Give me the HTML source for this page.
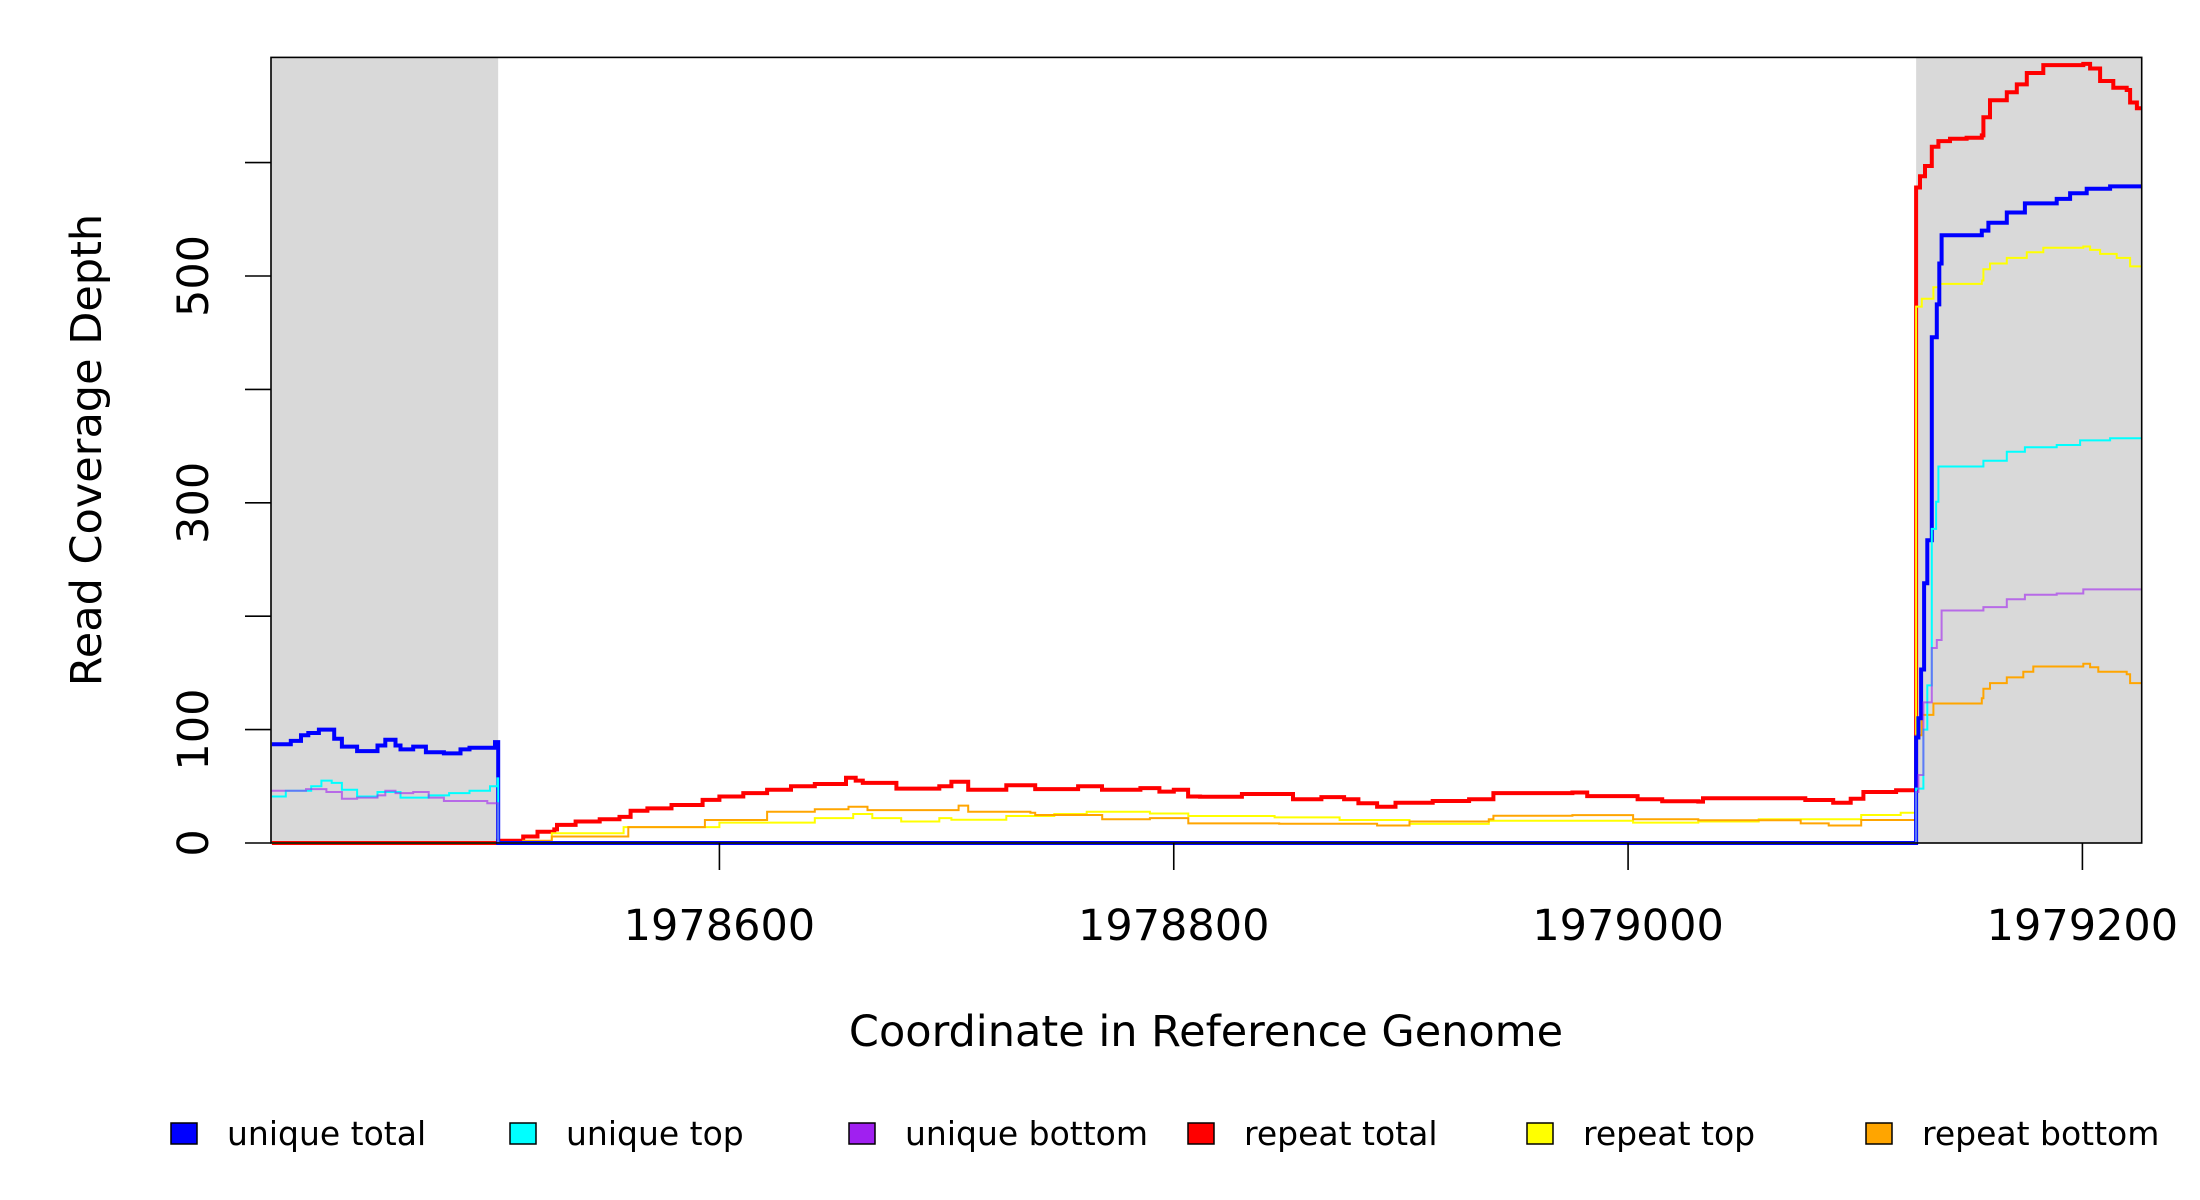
<!DOCTYPE html>
<html><head><meta charset="utf-8"><style>
html,body{margin:0;padding:0;background:#fff;}
svg{display:block;font-family:"DejaVu Sans","Liberation Sans",sans-serif;}
</style></head><body>
<svg id="chart" width="2200" height="1200" viewBox="0 0 2200 1200" xmlns="http://www.w3.org/2000/svg">
<g id="masks"></g>
<g id="series"></g>
<rect x="271" y="57.4" width="1870.7" height="785.6" fill="none" stroke="#000" stroke-width="1.6"/>
<g id="yaxis"></g>
<g id="xaxis"></g>
<text transform="translate(101,450) rotate(-90)" text-anchor="middle" font-size="43">Read Coverage Depth</text>
<text x="1206" y="1046" text-anchor="middle" font-size="43">Coordinate in Reference Genome</text>
<g id="legend"></g>
</svg>
<script>
const xDomain = [1978402.6, 1979226.1];
const yTicks = [0, 100, 200, 300, 400, 500, 600];
const yTickLabels = ["0", "100", "", "300", "", "500", ""];
const xTicks = [1978600, 1978800, 1979000, 1979200];
const xTickLabels = ["1978600", "1978800", "1979000", "1979200"];
const maskStarts = [1978402.6, 1979126.8];
const maskEnds = [1978502.6, 1979226.1];

const uniqueTotalX = [1978403,1978411.3,1978415.8,1978419,1978423.7,1978430.4,1978433.8,1978440.5,1978449.5,1978452.9,1978457.4,1978459.6,1978465.2,1978470.8,1978478.7,1978486,1978490,1978501.2,1978502.6,1979126.8,1979127.8,1979129,1979130.3,1979131.7,1979133.7,1979135.9,1979137,1979138,1979155.7,1979158.6,1979166.7,1979174.7,1979188.7,1979194.6,1979201.9,1979212.2];
const uniqueTotalY = [87,90,95,97,100,92,85,81,86,91,86,82.5,85,80,79,82.5,84,89,0,93,110,153,229,267,446,475,511,536,540,547,556,564,568,573,577,579];

const uniqueTopX = [1978403,1978409.1,1978420.3,1978424.8,1978429.3,1978433.8,1978440.5,1978449.5,1978459.6,1978472,1978481,1978490,1978499,1978502.3,1978502.6,1979126.8,1979130,1979131.7,1979133.7,1979135.6,1979136.6,1979156.4,1979166.7,1979174.7,1979188.7,1979199,1979212.2];
const uniqueTopY = [41,46,50,55,53,47,41,45,40,42,44,46,50,57,0,48,100,139,277,301,332,337,345,349,351,355,357];

const uniqueBottomX = [1978403,1978418,1978427,1978433.8,1978440.5,1978449.5,1978452.9,1978457.4,1978465.2,1978472,1978478.7,1978497.8,1978502.6,1979126.8,1979127.8,1979130,1979133.7,1979135.9,1979138,1979156.4,1979166.7,1979174.7,1979188.7,1979200.4];
const uniqueBottomY = [46,47.5,45,39,40,42,46,44,45,40,37,35,0,45,60,124,172,179,205,208,215,219,220,223.6];

const repeatTotalX = [1978403,1978502.6,1978513.6,1978519.9,1978527.3,1978528.5,1978536.7,1978547.3,1978556,1978560.9,1978568.3,1978578.9,1978592.6,1978600,1978610.5,1978621,1978631.5,1978642,1978655.7,1978660,1978663.1,1978677.9,1978696.8,1978702.1,1978709.5,1978726.3,1978739,1978757.9,1978768.4,1978785.3,1978793.7,1978800,1978806.3,1978811.6,1978830,1978852.5,1978865,1978875,1978881.3,1978889.5,1978897.6,1978914,1978930,1978940.7,1978975.5,1978982,1979004.2,1979015,1979030.9,1979033,1979078,1979090.3,1979098,1979103.6,1979118,1979126.8,1979128.5,1979130.7,1979133.7,1979136.6,1979141.7,1979149,1979155.7,1979156.4,1979159.3,1979166.7,1979171.1,1979175.5,1979182.8,1979200.4,1979203.4,1979207.8,1979213.6,1979219.5,1979221,1979224];
const repeatTotalY = [0,2,5.7,10,12,16,19,21,23,28.5,30.5,33.5,38,41,44,47,50,52,57.6,55,53,48,50,54,47,51,47.5,50,47,48.4,45.3,47,41,40.8,43.2,38.5,40.5,38.5,35,32,35.5,37,38.5,44,44.5,41.4,38.5,36.8,36.5,39.4,37.9,35.5,39,45,46.6,578,588,597,614,619,621,622,624,640,655,662,669,679,686,687,683,672,666,664,653,648];

const repeatTopX = [1978403,1978502.6,1978513.6,1978526.2,1978557.8,1978600,1978642,1978658.9,1978667.3,1978680,1978696.8,1978702.1,1978726.3,1978747.4,1978761.7,1978789.5,1978806.4,1978844.4,1978873,1978903.8,1978938.7,1979002.2,1979030.9,1979057.5,1979102.6,1979120,1979126.8,1979129.3,1979134.4,1979137.3,1979155.7,1979156.4,1979159.3,1979166.7,1979175.5,1979182.8,1979200.4,1979203.4,1979207.8,1979215.1,1979221];
const repeatTopY = [0,0,1,8.6,14,18,22,25.6,22,19,22,20.5,23.8,25.6,27.6,26,23.8,22.6,20.3,16.8,19.7,18,19,21,24.7,26.7,473,480,490,493,496,506,511,516,521,525,526,523,519.5,516,508.5];

const repeatBottomX = [1978403,1978513.6,1978526.2,1978559.9,1978593.6,1978621,1978642,1978656.8,1978665.2,1978684.2,1978705.3,1978709.5,1978736.9,1978739,1978768.5,1978789.5,1978806.4,1978846.4,1978889.5,1978903.8,1978938.7,1978940.7,1978975.5,1979002.2,1979030.9,1979076,1979088.3,1979102.6,1979126.8,1979129.3,1979134.4,1979155.7,1979156.4,1979159.3,1979166.7,1979174,1979178.4,1979200.4,1979203.4,1979207,1979219.5,1979221];
const repeatBottomY = [0,2,5.7,14,20.3,27.6,29.7,32,29,29,33,27.6,26.7,24.7,21,22,17.3,17,15.4,19,21,24,24.6,21,20,17.3,15.4,20.3,95,113,123,127.6,136,141,146,151,155.6,158,155,151,148.8,141];

const seriesNames = ["unique total","unique top","unique bottom","repeat total","repeat top","repeat bottom"];
const seriesColors = ["#0000ff","#00ffff","#a020f0","#ff0000","#ffff00","#ffa500"];

const PX0 = 271, PX1 = 2141.7, PY0 = 843, PYS = 1.134;
function xs(c){ return PX0 + (c - xDomain[0]) / (xDomain[1] - xDomain[0]) * (PX1 - PX0); }
function ys(v){ return PY0 - v * PYS; }
const NS = "http://www.w3.org/2000/svg";
function mk(tag, attrs){ const e = document.createElementNS(NS, tag); for (const k in attrs) e.setAttribute(k, attrs[k]); return e; }

const masks = document.getElementById('masks');
for (let i = 0; i < maskStarts.length; i++) {
  const r = mk('rect', {x: xs(maskStarts[i]), y: 57.4, width: xs(maskEnds[i]) - xs(maskStarts[i]), height: PY0 - 57.4, fill: '#d9d9d9'});
  
  
  masks.appendChild(r);
}

function stepPath(X, Y){
  let d = 'M' + xs(X[0]).toFixed(1) + ',' + ys(Y[0]).toFixed(1);
  for (let i = 1; i < X.length; i++) {
    d += 'H' + xs(X[i]).toFixed(1) + 'V' + ys(Y[i]).toFixed(1);
  }
  d += 'H' + xs(xDomain[1]).toFixed(1);
  return d;
}
const seriesG = document.getElementById('series');
const allX = [uniqueTotalX, uniqueTopX, uniqueBottomX, repeatTotalX, repeatTopX, repeatBottomX];
const allY = [uniqueTotalY, uniqueTopY, uniqueBottomY, repeatTotalY, repeatTopY, repeatBottomY];
const widths = [4, 2, 2, 4, 2, 2];
const drawOrder = [3, 4, 5, 0, 1, 2];
drawOrder.forEach(i => {
  const p = mk('path', {d: stepPath(allX[i], allY[i]), fill: 'none', stroke: seriesColors[i], 'stroke-width': widths[i], 'stroke-linejoin': 'miter'});
  if (i === 2) p.setAttribute('stroke-opacity', '0.6');
  
  
  seriesG.appendChild(p);
});

const ya = document.getElementById('yaxis');
yTicks.forEach((v, i) => {
  const t = mk('line', {x1: 245, x2: 271, y1: ys(v), y2: ys(v), stroke: '#000', 'stroke-width': 1.6});
  
  
  ya.appendChild(t);
  if (yTickLabels[i]) {
    const tx = mk('text', {transform: 'translate(208,' + ys(v) + ') rotate(-90)', 'text-anchor': 'middle', 'font-size': 43});
    tx.textContent = yTickLabels[i];
    
    
    ya.appendChild(tx);
  }
});
const xa = document.getElementById('xaxis');
xTicks.forEach((c, i) => {
  const t = mk('line', {x1: xs(c), x2: xs(c), y1: 843, y2: 870, stroke: '#000', 'stroke-width': 1.6});
  
  
  xa.appendChild(t);
  const tx = mk('text', {x: xs(c), y: 940, 'text-anchor': 'middle', 'font-size': 43});
  tx.textContent = xTickLabels[i];
  
  
  xa.appendChild(tx);
});

const lg = document.getElementById('legend');
seriesNames.forEach((n, i) => {
  const x = 171 + i * 339;
  const g = mk('g', {});
  
  
  const r = mk('rect', {x: x, y: 1123, width: 26, height: 21, fill: seriesColors[i], stroke: '#000', 'stroke-width': 1.5});
  
  
  const t = mk('text', {x: x + 56, y: 1145, 'font-size': 33});
  t.textContent = n;
  
  
  g.appendChild(r); g.appendChild(t);
  lg.appendChild(g);
});
</script>
</body></html>
